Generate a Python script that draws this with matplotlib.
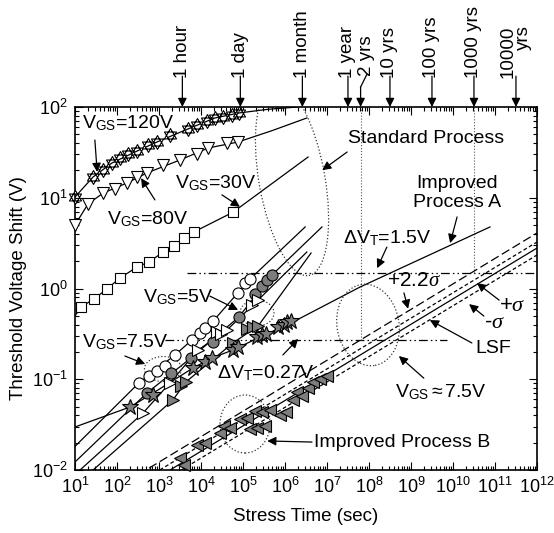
import numpy as np
import matplotlib
matplotlib.use("Agg")
import matplotlib.pyplot as plt
from matplotlib.patches import Ellipse
from matplotlib.path import Path
from matplotlib.transforms import ScaledTranslation, blended_transform_factory

plt.rcParams["font.family"] = ["Liberation Sans", "DejaVu Sans"]
plt.rcParams["mathtext.fontset"] = "custom"
plt.rcParams["mathtext.rm"] = "Liberation Sans"
plt.rcParams["mathtext.it"] = "Liberation Serif:italic"

# ------------------------------------------------------------------ #
# Data (log10 of time in s, log10 of shift in V)
# ------------------------------------------------------------------ #
# Standard process, high gate bias
v120_logt = [1.0, 1.43, 1.67, 1.88, 2.07, 2.26, 2.48, 2.74, 2.95, 3.26, 3.69, 3.90, 4.14, 4.33, 4.52, 4.74, 4.90]
v120_logv = [1.008, 1.229, 1.306, 1.383, 1.438, 1.482, 1.515, 1.581, 1.614, 1.691, 1.758, 1.802, 1.846, 1.879, 1.890, 1.912, 1.934]
v120_fit_logt = [1.0, 1.43, 1.88, 2.48, 2.95, 3.69, 4.33, 4.90, 5.60, 6.30]
v120_fit_logv = [1.008, 1.229, 1.383, 1.515, 1.614, 1.758, 1.879, 1.934, 1.975, 2.0]

v80_logt = [1.0, 1.31, 1.67, 1.95, 2.24, 2.48, 2.71, 3.10, 3.50, 3.90, 4.17, 4.62, 4.88]
v80_logv = [0.700, 0.931, 1.052, 1.096, 1.163, 1.229, 1.273, 1.361, 1.416, 1.482, 1.548, 1.603, 1.614]
v80_fit_logt = [1.0, 1.31, 1.67, 2.24, 2.71, 3.50, 4.17, 4.88, 5.70, 6.52]
v80_fit_logv = [0.700, 0.931, 1.052, 1.163, 1.273, 1.416, 1.548, 1.614, 1.741, 1.879]

v30_logt = [1.14, 1.45, 1.76, 2.07, 2.48, 2.76, 3.10, 3.36, 3.60, 3.83, 4.76]
v30_logv = [-0.204, -0.116, -0.006, 0.116, 0.237, 0.292, 0.402, 0.468, 0.556, 0.623, 0.840]
v30_fit_logt = [1.0, 1.14, 1.45, 1.76, 2.07, 2.48, 2.76, 3.10, 3.36, 3.60, 3.83, 4.76, 6.55]
v30_fit_logv = [-0.303, -0.204, -0.116, -0.006, 0.116, 0.237, 0.292, 0.402, 0.468, 0.556, 0.623, 0.840, 1.449]

# Standard process, low gate bias (5 V / 7.5 V)
ocirc_logt = [2.52, 2.76, 2.95, 3.14, 3.38, 3.79, 3.98, 4.10, 4.29, 4.88, 5.05, 5.17]
ocirc_logv = [-1.041, -0.964, -0.909, -0.854, -0.733, -0.567, -0.490, -0.435, -0.358, -0.050, 0.061, 0.105]
ocirc_fit_logt = [1.0, 2.52, 3.38, 4.29, 5.17, 6.48]
ocirc_fit_logv = [-1.74, -1.041, -0.733, -0.358, 0.105, 0.678]

gcirc_logt = [2.71, 3.29, 3.76, 4.29, 4.90, 5.29, 5.45, 5.57, 5.69]
gcirc_logv = [-1.152, -0.931, -0.766, -0.590, -0.314, -0.061, 0.028, 0.094, 0.149]
gcirc_fit_logt = [1.0, 2.71, 3.76, 4.90, 5.69, 6.88]
gcirc_fit_logv = [-1.912, -1.152, -0.766, -0.314, 0.149, 0.678]

otri_logt = [2.62, 3.26, 3.93, 4.38, 4.48, 4.62, 5.21, 5.36]
otri_logv = [-1.372, -1.041, -0.678, -0.479, -0.502, -0.457, -0.182, -0.127]
otri_fit_logt = [1.12, 2.62, 3.26, 3.93, 4.62, 5.36, 6.52]
otri_fit_logv = [-2.0, -1.372, -1.041, -0.678, -0.457, -0.127, 0.402]

gtri_logt = [3.33, 3.52, 3.64, 4.76, 5.10, 5.24, 5.36]
gtri_logv = [-1.229, -1.074, -1.030, -0.600, -0.446, -0.424, -0.413]
gtri_fit_logt = [1.43, 3.33, 3.64, 4.76, 5.36, 6.62]
gtri_fit_logv = [-2.0, -1.229, -1.030, -0.600, -0.413, 0.391]

# Improved process A
impA_logt = [2.31, 2.86, 3.81, 4.10, 4.26, 4.76, 4.88, 5.33, 5.45, 5.55, 5.83, 5.98, 6.05, 6.14]
impA_logv = [-1.306, -1.174, -0.876, -0.810, -0.766, -0.678, -0.645, -0.534, -0.512, -0.501, -0.424, -0.402, -0.369, -0.358]
impA_fit_logt = [1.0, 2.31, 2.86, 3.81, 4.26, 4.76, 5.41, 5.88, 6.19, 7.79, 10.88]
impA_fit_logv = [-1.526, -1.306, -1.152, -0.876, -0.766, -0.678, -0.534, -0.435, -0.369, 0.017, 0.678]

# Improved process B
impB_logt = [3.50, 3.60, 3.90, 4.10, 4.45, 4.55, 4.69, 4.93, 5.10, 5.17, 5.29, 5.33,
             5.45, 5.52, 5.64, 5.88, 6.02, 6.19, 6.29, 6.40, 6.55, 6.67, 6.83, 7.00]
impB_logv = [-1.868, -1.945, -1.725, -1.702, -1.592, -1.515, -1.537, -1.438, -1.427, -1.548, -1.350, -1.537,
             -1.361, -1.515, -1.339, -1.394, -1.361, -1.229, -1.141, -1.185, -1.096, -1.030, -0.997, -0.964]
fit_t_ends = [1e2, 1e12]
lsf_v = [0.00443, 2.79]
plus_sigma_v = [0.00520, 3.25]
minus_sigma_v = [0.00373, 2.34]
plus_22sigma_v = [0.00640, 4.09]

# Criteria and time markers
dvt_levels = [1.5, 0.27]
dvt_t_ranges = [(10 ** 3.67, 1e12), (10 ** 3.14, 10 ** 9.86)]
marker_times = [3600, 86400, 2.592e6, 3.156e7, 6.31e7, 3.156e8, 3.156e9, 3.156e10, 3.156e11]
marker_labels = ["1 hour", "1 day", "1 month", "1 year", "2 yrs", "10 yrs", "100 yrs", "1000 yrs", "10000\nyrs"]


def p10(a):
    return 10 ** np.asarray(a, dtype=float)


def star_of_david():
    # two overlapping triangles, both outlines drawn
    up = [(0, 1), (-0.866, -0.5), (0.866, -0.5), (0, 1)]
    dn = [(0, -1), (-0.866, 0.5), (0.866, 0.5), (0, -1)]
    codes = [Path.MOVETO, Path.LINETO, Path.LINETO, Path.CLOSEPOLY]
    return Path(up + dn, codes + codes)


fig = plt.figure(figsize=(5.54, 5.33), dpi=100)
ax = fig.add_axes([75 / 554, 63 / 533, 462 / 554, 363 / 533])
ax.set_xscale("log")
ax.set_yscale("log")
ax.set_xlim(1e1, 1e12)
ax.set_ylim(1e-2, 1e2)

LW = 0.9
GRAY = "#7d7d7d"

# fit lines
for lt, lv in [(v120_fit_logt, v120_fit_logv), (v80_fit_logt, v80_fit_logv),
               (v30_fit_logt, v30_fit_logv), (ocirc_fit_logt, ocirc_fit_logv),
               (gcirc_fit_logt, gcirc_fit_logv), (otri_fit_logt, otri_fit_logv),
               (gtri_fit_logt, gtri_fit_logv), (impA_fit_logt, impA_fit_logv)]:
    ax.plot(p10(lt), p10(lv), color="k", lw=LW, zorder=2)

ax.plot(fit_t_ends, lsf_v, color="k", lw=LW, zorder=2)
ax.plot(fit_t_ends, plus_sigma_v, color="k", lw=LW, dashes=(3, 2), zorder=2)
ax.plot(fit_t_ends, minus_sigma_v, color="k", lw=LW, dashes=(3, 2), zorder=2)
ax.plot(fit_t_ends, plus_22sigma_v, color="k", lw=LW, dashes=(7, 3), zorder=2)

# criteria lines
for lvl, (t0, t1) in zip(dvt_levels, dvt_t_ranges):
    ax.plot([t0, t1], [lvl, lvl], color="k", lw=LW, dashes=(7, 2.5, 1.2, 2.5, 1.2, 2.5), zorder=1)
ax.plot([6.31e7, 6.31e7], [0.27, 100], color="#555555", lw=0.8, ls=":", zorder=1)
ax.plot([3.156e10, 3.156e10], [1.5, 100], color="#555555", lw=0.8, ls=":", zorder=1)

# markers
mk = dict(ls="none", mec="k", mew=0.8, zorder=4, clip_on=False)
ax.plot(p10(v120_logt), p10(v120_logv), marker=star_of_david(), ms=10, mfc="white", **mk)
ax.plot(p10(v80_logt), p10(v80_logv), marker="v", ms=9, mfc="white", **mk)
ax.plot(p10(v30_logt), p10(v30_logv), marker="s", ms=7, mfc="white", **mk)
ax.plot(p10(ocirc_logt), p10(ocirc_logv), marker="o", ms=8, mfc="white", **mk)
ax.plot(p10(gcirc_logt), p10(gcirc_logv), marker="o", ms=8, mfc=GRAY, **mk)
ax.plot(p10(otri_logt), p10(otri_logv), marker=">", ms=8.5, mfc="white", **mk)
ax.plot(p10(gtri_logt), p10(gtri_logv), marker=">", ms=8.5, mfc=GRAY, **mk)
ax.plot(p10(impA_logt), p10(impA_logv), marker="*", ms=12, mfc=GRAY, **mk)
ax.plot(p10(impB_logt), p10(impB_logv), marker="<", ms=8.5, mfc=GRAY, **mk)


# dotted ellipses, sized in pixels around a data point
def ring(t, v, w_px, h_px, angle=0):
    tr = fig.dpi_scale_trans + ScaledTranslation(t, v, ax.transData)
    e = Ellipse((0, 0), w_px / 100, h_px / 100, angle=angle, transform=tr,
                fill=False, ls=":", lw=0.9, ec="#333333", zorder=3)
    ax.add_patch(e)


ring(10 ** 6.167, 10 ** 1.196, 66, 194, 10)
ring(10 ** 5.333, 10 ** -0.270, 34, 26)
ring(10 ** 3.095, 10 ** -0.887, 37, 25)
ring(10 ** 5.048, 10 ** -1.493, 50, 58)
ring(10 ** 7.976, 10 ** -0.402, 62, 82, 10)

# annotations (axes fraction coordinates)
FS = 14
arrow = dict(arrowstyle="-|>", lw=0.9, color="k", mutation_scale=13, shrinkA=0, shrinkB=0)


def note(text, xy_text, tail, head, **kw):
    ax.text(*xy_text, text, transform=ax.transAxes, fontsize=kw.pop("fontsize", FS), va="center",
            ha=kw.pop("ha", "left"), **kw)
    ax.annotate("", xy=head, xytext=tail, xycoords="axes fraction", textcoords="axes fraction",
                arrowprops=arrow)


note(r"V$_{\mathrm{GS}}$=120V", (0.015, 0.956), (0.043, 0.909), (0.048, 0.821))
note(r"V$_{\mathrm{GS}}$=80V", (0.069, 0.691), (0.173, 0.744), (0.143, 0.804))
note(r"V$_{\mathrm{GS}}$=30V", (0.216, 0.791), (0.318, 0.758), (0.357, 0.725))
note(r"V$_{\mathrm{GS}}$=5V", (0.147, 0.477), (0.292, 0.479), (0.353, 0.441))
note(r"V$_{\mathrm{GS}}$=7.5V", (0.015, 0.353), (0.108, 0.314), (0.152, 0.292))
note(r"$\Delta$V$_{\mathrm{T}}$=0.27V", (0.307, 0.267), (0.450, 0.317), (0.483, 0.361))
note(r"$\Delta$V$_{\mathrm{T}}$=1.5V", (0.580, 0.639), (0.675, 0.614), (0.654, 0.556))
note("Improved\nProcess A", (0.827, 0.763), (0.827, 0.697), (0.812, 0.625), ha="center",
     multialignment="center", linespacing=1.1)
note("Standard Process", (0.760, 0.912), (0.589, 0.876), (0.535, 0.826), ha="center")
note(r"+2.2$\mathit{\sigma}$", (0.675, 0.521), (0.712, 0.488), (0.721, 0.444), fontsize=15)
note(r"+$\mathit{\sigma}$", (0.918, 0.452), (0.918, 0.468), (0.870, 0.515), fontsize=16)
note(r"-$\mathit{\sigma}$", (0.885, 0.406), (0.885, 0.424), (0.853, 0.457), fontsize=16)
note("LSF", (0.866, 0.336), (0.859, 0.350), (0.768, 0.413))
note(r"V$_{\mathrm{GS}}$$\approx$7.5V", (0.693, 0.215), (0.755, 0.253), (0.701, 0.314))
note("Improved Process B", (0.517, 0.077), (0.513, 0.077), (0.416, 0.080))

# time markers above the plot
top = blended_transform_factory(ax.transData, ax.transAxes)
for t, lab in zip(marker_times, marker_labels):
    if lab == "2 yrs":
        t_txt = 10 ** 7.95
        ax.plot([t, t_txt], [1.055, 1.09], transform=top, color="k", lw=0.9, clip_on=False)
        ax.annotate("", xy=(t, 1.0), xytext=(t, 1.055), xycoords=top, textcoords=top, arrowprops=arrow)
        ax.text(t_txt, 1.085, lab, transform=top, rotation=90, ha="center", va="bottom", fontsize=13.5)
        continue
    ax.annotate("", xy=(t, 1.0), xytext=(t, 1.085), xycoords=top, textcoords=top, arrowprops=arrow)
    ax.text(t, 1.08, lab, transform=top, rotation=90, ha="center", va="bottom", fontsize=13.5,
            multialignment="right", linespacing=0.9)

# axes styling
ax.set_xticks(p10(np.arange(1, 13)))
ax.set_yticks(p10(np.arange(-2, 3)))
ax.xaxis.set_major_formatter(matplotlib.ticker.LogFormatterMathtext())
ax.yaxis.set_major_formatter(matplotlib.ticker.LogFormatterMathtext())
ax.xaxis.set_minor_locator(matplotlib.ticker.LogLocator(base=10, subs=np.arange(2, 10), numticks=20))
ax.yaxis.set_minor_locator(matplotlib.ticker.LogLocator(base=10, subs=np.arange(2, 10), numticks=20))
ax.xaxis.set_minor_formatter(matplotlib.ticker.NullFormatter())
ax.yaxis.set_minor_formatter(matplotlib.ticker.NullFormatter())
ax.tick_params(which="both", direction="in", top=True, right=True, labelsize=13, width=0.8)
ax.tick_params(which="major", length=6, pad=5)
ax.tick_params(which="minor", length=3)
for s in ax.spines.values():
    s.set_linewidth(1.2)
ax.set_xlabel("Stress Time (sec)", fontsize=13.5, labelpad=8)
ax.set_ylabel("Threshold Voltage Shift (V)", fontsize=13.5, labelpad=4)

fig.savefig("out.png", dpi=100)
